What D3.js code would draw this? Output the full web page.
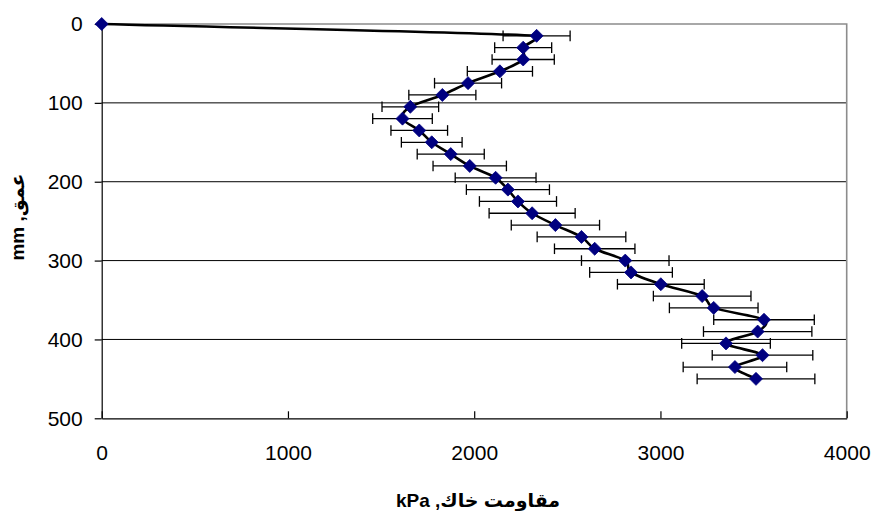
<!DOCTYPE html>
<html>
<head>
    <meta http-equiv="content-type" content="text/html; charset=utf-8" />
    <style>
        body { margin: 0; background: #fff; }
        svg { display: block; font-family: "Liberation Sans", Arial, "DejaVu Sans", sans-serif; }
    </style>
</head>
<body>
    <svg id="chart" width="875" height="511"></svg>

    <script src="https://cdn.jsdelivr.net/npm/d3@7"></script>
    <script>
        // depth (mm) on the vertical axis
        const depth = [0, 15, 30, 45, 60, 75, 90, 105, 120, 135, 150, 165, 180, 195, 210,
            225, 240, 255, 270, 285, 300, 315, 330, 345, 360, 375, 390, 405, 420, 435, 450]
        // soil resistance (kPa)
        const resistance = [0, 2335, 2263, 2263, 2138, 1967, 1829, 1657, 1615, 1705, 1772,
            1874, 1976, 2115, 2181, 2235, 2311, 2436, 2576, 2647, 2811, 2842, 3002, 3224,
            3286, 3556, 3522, 3352, 3548, 3400, 3513]
        // +/- error (kPa)
        const errorVal = [0, 180, 153, 167, 175, 180, 180, 152, 160, 152, 163, 180, 197,
            217, 223, 207, 231, 237, 238, 216, 235, 222, 233, 262, 238, 270, 291, 238,
            270, 278, 316]

        const xTicks = [0, 1000, 2000, 3000, 4000]
        const yTicks = [0, 100, 200, 300, 400, 500]
        const xTitle = 'مقاومت خاك, kPa'
        const yTitle = 'عمق, mm'

        const svg = d3.select('#chart')
        const pLeft = 101.7, pRight = 846.7, pTop = 24, pBottom = 418.3

        const x = d3.scaleLinear().domain([0, 4000]).range([pLeft, pRight])
        const y = d3.scaleLinear().domain([0, 500]).range([pTop, pBottom])

        const pts = depth.map((d, i) => ({ d: d, v: resistance[i], e: errorVal[i] }))

        // excel-like smoothing: bezier with tangents (P[i+1]-P[i-1])/6,
        // capped at half the segment so short segments don't overshoot
        function excelSmooth(context) {
            let p = []
            return {
                areaStart() {}, areaEnd() {},
                lineStart() { p = [] },
                point(a, b) { p.push([+a, +b]) },
                lineEnd() {
                    const n = p.length
                    if (!n) return
                    context.moveTo(p[0][0], p[0][1])
                    const tan = p.map((q, i) => {
                        const a = p[Math.max(i - 1, 0)], b = p[Math.min(i + 1, n - 1)]
                        const k = (i === 0 || i === n - 1) ? 3 : 6
                        return [(b[0] - a[0]) / k, (b[1] - a[1]) / k]
                    })
                    for (let i = 0; i < n - 1; i++) {
                        const a = p[i], b = p[i + 1]
                        const seg = Math.hypot(b[0] - a[0], b[1] - a[1])
                        const ta = tan[i], tb = tan[i + 1]
                        const sa = Math.min(1, 0.5 * seg / (Math.hypot(ta[0], ta[1]) || 1))
                        const sb = Math.min(1, 0.5 * seg / (Math.hypot(tb[0], tb[1]) || 1))
                        context.bezierCurveTo(
                            a[0] + ta[0] * sa, a[1] + ta[1] * sa,
                            b[0] - tb[0] * sb, b[1] - tb[1] * sb,
                            b[0], b[1])
                    }
                }
            }
        }

        // gridlines
        svg.append('g')
            .selectAll('line')
            .data(yTicks.filter(t => t > 0 && t < 500))
            .join('line')
            .attr('x1', pLeft).attr('x2', pRight)
            .attr('y1', d => y(d)).attr('y2', d => y(d))
            .attr('stroke', '#000').attr('stroke-width', 1)

        // plot border (top, right)
        svg.append('path')
            .attr('d', `M${pLeft},${pTop}H${pRight}V${pBottom}`)
            .attr('fill', 'none')
            .attr('stroke', '#8c8c8c')
            .attr('stroke-width', 1.6)

        // axes
        const xAxis = svg.append('g')
            .attr('transform', `translate(0,${pBottom})`)
            .call(d3.axisBottom(x).tickValues(xTicks).tickFormat(d3.format('d'))
                .tickSizeInner(-7).tickSizeOuter(0).tickPadding(27))
        const yAxis = svg.append('g')
            .attr('transform', `translate(${pLeft},0)`)
            .call(d3.axisLeft(y).tickValues(yTicks).tickFormat(d3.format('d'))
                .tickSizeInner(7).tickSizeOuter(0).tickPadding(12))

        ;[xAxis, yAxis].forEach(a => {
            a.selectAll('path, line').attr('stroke', '#000').attr('stroke-width', 1.2)
            a.selectAll('text')
                .attr('fill', '#000')
                .style('font-size', '21px')
                .style('font-family', '"Liberation Sans", Arial, sans-serif')
        })

        // smoothed line
        const line = d3.line()
            .x(p => x(p.v))
            .y(p => y(p.d))
            .curve(excelSmooth)

        svg.append('path')
            .datum(pts)
            .attr('d', line)
            .attr('fill', 'none')
            .attr('stroke', '#000')
            .attr('stroke-width', 2.6)

        // error bars
        const eb = svg.append('g')
            .attr('stroke', '#000')
            .attr('stroke-width', 1.3)
            .selectAll('g')
            .data(pts.filter(p => p.e > 0))
            .join('g')
        eb.append('line')
            .attr('x1', p => x(p.v - p.e)).attr('x2', p => x(p.v + p.e))
            .attr('y1', p => y(p.d)).attr('y2', p => y(p.d))
        eb.append('line')
            .attr('x1', p => x(p.v - p.e)).attr('x2', p => x(p.v - p.e))
            .attr('y1', p => y(p.d) - 5.3).attr('y2', p => y(p.d) + 5.3)
        eb.append('line')
            .attr('x1', p => x(p.v + p.e)).attr('x2', p => x(p.v + p.e))
            .attr('y1', p => y(p.d) - 5.3).attr('y2', p => y(p.d) + 5.3)

        // diamond markers
        const r = 6.5
        svg.append('g')
            .selectAll('path')
            .data(pts)
            .join('path')
            .attr('transform', p => `translate(${x(p.v)},${y(p.d)})`)
            .attr('d', `M0,${-r}L${r},0L0,${r}L${-r},0Z`)
            .attr('fill', '#000080')
            .attr('stroke', '#000080')
            .attr('stroke-width', 0.8)

        // axis titles
        svg.append('text')
            .attr('x', 478)
            .attr('y', 507)
            .attr('text-anchor', 'middle')
            .attr('direction', 'rtl')
            .style('font-size', '19px')
            .style('font-weight', 'bold')
            .text(xTitle)

        svg.append('text')
            .attr('transform', 'translate(24,217) rotate(-90)')
            .attr('text-anchor', 'middle')
            .attr('direction', 'rtl')
            .style('font-size', '19px')
            .style('font-weight', 'bold')
            .text(yTitle)
    </script>
</body>
</html>
